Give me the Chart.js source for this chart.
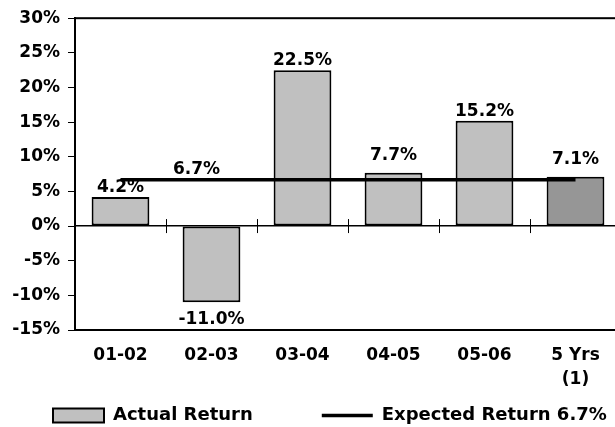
<!DOCTYPE html>
<html>
<head>
<meta charset="utf-8">
<script src="https://cdn.jsdelivr.net/npm/chart.js@4.4.1/dist/chart.umd.min.js"></script>
<style>
html, body { margin: 0; padding: 0; background: #fff; overflow: hidden; }
#wrap { width: 621px; height: 427px; }
</style>
</head>
<body>
<div id="wrap"><canvas id="myChart"></canvas></div>
<script>
// data
const categories = ['01-02', '02-03', '03-04', '04-05', '05-06', ['5 Yrs', '(1)']];
const actualReturn = [4.2, -11.0, 22.5, 7.7, 15.2, 7.1];
const expectedReturn = [6.7, 6.7, 6.7, 6.7, 6.7, 6.7];
const yTicks = [-15, -10, -5, 0, 5, 10, 15, 20, 25, 30];
const seriesNames = ['Actual Return', 'Expected Return 6.7%'];

const FONT = 'DejaVu Sans';
const barColors = actualReturn.map((v, i) => i === actualReturn.length - 1 ? '#969696' : '#c0c0c0');

// frame, little ticks on the zero line, value labels, legend placement
const extras = {
    id: 'extras',
    beforeLayout(chart) {
        const lg = chart.legend;
        if (lg && !lg._fixed) {
            const fit = lg.fit;
            lg.fit = function () { fit.call(this); this.height = 97; };
            lg._fixed = true;
        }
    },
    afterLayout(chart) {
        const lg = chart.legend;
        if (lg) {
            lg.top += 7.5; lg.bottom += 7.5;
            lg.left = 53 - lg.options.labels.padding;
            lg.right = 900;
        }
    },
    beforeDatasetsDraw(chart) {
        const {ctx, chartArea: a} = chart;
        ctx.save();
        ctx.strokeStyle = '#000';
        ctx.lineWidth = 2;
        ctx.strokeRect(a.left, a.top, a.right - a.left, a.bottom - a.top);
        ctx.restore();
    },
    afterDatasetsDraw(chart) {
        const {ctx} = chart;
        const xs = chart.scales.x, ys = chart.scales.y;
        const y0 = ys.getPixelForValue(0);
        ctx.save();
        ctx.strokeStyle = '#000';
        ctx.lineWidth = 1;
        for (let i = 1; i < categories.length; i++) {
            const x = Math.round((xs.getPixelForValue(i - 1) + xs.getPixelForValue(i)) / 2) + 0.5;
            ctx.beginPath();
            ctx.moveTo(x, y0 - 7);
            ctx.lineTo(x, y0 + 7);
            ctx.stroke();
        }

        ctx.fillStyle = '#000';
        ctx.font = 'bold 17px "' + FONT + '"';
        ctx.textAlign = 'center';
        ctx.textBaseline = 'alphabetic';
        chart.getDatasetMeta(0).data.forEach((bar, i) => {
            const v = actualReturn[i];
            const txt = v.toFixed(1) + '%';
            // labels of bars that end near the expected line are lifted clear of it
            const gap = Math.abs(v - expectedReturn[i]) < 1.5 ? 13 : 5;
            if (v >= 0) ctx.fillText(txt, bar.x, bar.y - gap);
            else ctx.fillText(txt, bar.x, bar.y + 22);
        });
        // expected return label sits over the second point
        const p = chart.getDatasetMeta(1).data[1];
        ctx.fillText(expectedReturn[1].toFixed(1) + '%', p.x - 15, p.y - 6);
        ctx.restore();
    }
};

const ctx = document.getElementById('myChart');
const myChart = new Chart(ctx, {
    type: 'bar',
    data: {
        labels: categories,
        datasets: [{
            label: seriesNames[0],
            data: actualReturn,
            backgroundColor: barColors,
            borderColor: '#000',
            borderWidth: 2,
            borderSkipped: false,
            barPercentage: 0.635,
            categoryPercentage: 1,
            pointStyle: 'rect',
            order: 2
        }, {
            type: 'line',
            label: seriesNames[1],
            data: expectedReturn,
            borderColor: '#000',
            borderWidth: 3.5,
            pointRadius: 0,
            pointHoverRadius: 0,
            pointStyle: 'line',
            pointBorderColor: '#000',
            pointBorderWidth: 3.5,
            order: 1
        }]
    },
    options: {
        responsive: true,
        maintainAspectRatio: false,
        animation: false,
        layout: { padding: { top: 16, left: 0, right: 0, bottom: 0 } },
        scales: {
            x: {
                type: 'category',
                offset: true,
                position: { y: 0 },
                grid: { display: true, drawOnChartArea: false, drawTicks: false },
                border: { display: true, color: '#000', width: 1.5 },
                ticks: { display: false }
            },
            xl: {
                type: 'category',
                position: { y: yTicks[0] },
                offset: true,
                grid: { display: false, drawTicks: false },
                border: { display: false },
                ticks: {
                    autoSkip: false,
                    maxRotation: 0,
                    minRotation: 0,
                    padding: 13,
                    color: '#000',
                    font: { family: FONT, size: 17, weight: 'bold', lineHeight: 1.45 }
                }
            },
            y: {
                min: yTicks[0],
                max: yTicks[yTicks.length - 1],
                afterBuildTicks: axis => { axis.ticks = yTicks.map(v => ({ value: v })); },
                afterFit: scale => { scale.width = 75; },
                grid: { drawOnChartArea: false, drawTicks: true, tickLength: 7, color: '#000', lineWidth: 1 },
                border: { display: true, color: '#000', width: 2 },
                ticks: {
                    padding: 8,
                    color: '#000',
                    font: { family: FONT, size: 17, weight: 'bold' },
                    callback: v => v + '%'
                }
            }
        },
        plugins: {
            tooltip: { enabled: false },
            legend: {
                position: 'bottom',
                align: 'start',
                labels: {
                    usePointStyle: true,
                    pointStyleWidth: 51,
                    boxHeight: 14,
                    padding: 69,
                    color: '#000',
                    font: { family: FONT, size: 18, weight: 'bold' },
                    sort: (a, b) => a.datasetIndex - b.datasetIndex
                }
            }
        }
    },
    plugins: [extras]
});
</script>
</body>
</html>
